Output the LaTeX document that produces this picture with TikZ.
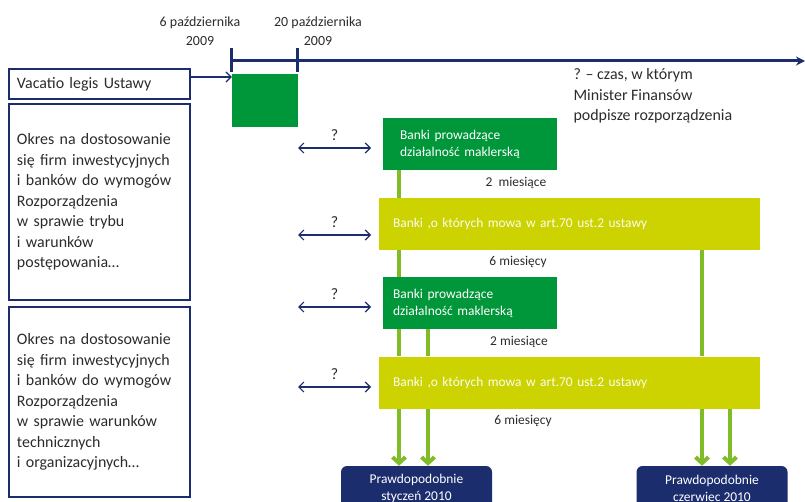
\documentclass[tikz,border=0pt]{standalone}
\usepackage{fontspec}
\setmainfont{Carlito}
\usetikzlibrary{arrows.meta, positioning}
\definecolor{navy}{HTML}{1C2D6E}
\definecolor{mkgreen}{HTML}{00963A}
\definecolor{lime}{HTML}{CCD300}
\definecolor{arrgreen}{HTML}{80BC28}
\definecolor{txtgray}{HTML}{2B2B2B}

\begin{document}
\begin{tikzpicture}[x=1bp, y=-1bp,
  every node/.style={text=txtgray},
  okres/.style={rectangle, draw=navy, line width=1.5bp, minimum width=181bp,
    text width=165bp, inner xsep=8bp, align=left,
    font=\fontsize{16}{20.5}\selectfont},
  bank/.style={rectangle, fill=mkgreen, text=white, minimum width=174bp,
    minimum height=52bp, align=left, font=\fontsize{13.5}{17}\selectfont},
  wide/.style={rectangle, fill=lime, text=white!95!lime, minimum width=381bp,
    minimum height=52bp, text width=353bp, inner xsep=14bp, align=left,
    font=\fontsize{13.5}{17}\selectfont},
  termin/.style={rectangle, rounded corners=6bp, fill=navy, text=white,
    minimum width=151bp, minimum height=44bp, align=center,
    font=\fontsize{13.5}{17}\selectfont},
  tline/.style={draw=navy, line width=3bp},
  navarr/.style={draw=navy, line width=1.2bp, -{Straight Barb[length=5bp, width=10bp]}},
  dbl/.style={draw=navy, line width=1.2bp,
    {Straight Barb[length=5bp, width=10bp]}-{Straight Barb[length=5bp, width=10bp]}},
  qmark/.style={above=3bp, font=\fontsize{16}{18}\selectfont},
  vline/.style={draw=arrgreen, line width=4bp},
  vdown/.style={vline, -{Straight Barb[length=6bp, width=13bp]}},
  dlab/.style={font=\fontsize{13.5}{17}\selectfont},
  dates/.style={align=center, font=\fontsize{14}{19}\selectfont},
]
\useasboundingbox (0,0) rectangle (805,502);

% Timeline
\coordinate (t0) at (231,61);
\coordinate (tend) at (805,61);
\draw[tline, -{Stealth[length=9bp, width=9bp]}] (t0) -- (tend);
\draw[tline] (231,48) -- (231,72);
\draw[tline] (297,48) -- (297,72);
\node[dates] (d1) at (200,31) {6 października\\2009};
\node[dates] (d2) at (318,31) {20 października\\2009};
\node[anchor=west, align=left, font=\fontsize{16}{20.5}\selectfont] (note) at (570,96)
  {? -- czas, w którym\\Minister Finansów\\podpisze rozporządzenia};

% Left column
\node[okres, minimum height=30bp, inner ysep=0bp] (vac) at (99.5,84) {Vacatio legis Ustawy};
\node[okres, minimum height=196bp] (ok1) at (99.5,202)
  {Okres na dostosowanie\\się firm inwestycyjnych\\i banków do wymogów\\Rozporządzenia\\w sprawie trybu\\i warunków\\postępowania\dots};
\node[okres, minimum height=190bp] (ok2) at (99.5,402)
  {Okres na dostosowanie\\się firm inwestycyjnych\\i banków do wymogów\\Rozporządzenia\\w sprawie warunków\\technicznych\\i organizacyjnych\dots};

\node[rectangle, fill=mkgreen, minimum width=66bp, minimum height=53bp] (sq) at (265,100.5) {};
\draw[navarr] ([yshift=7bp]vac.east) -- ([yshift=7bp]vac.east -| sq.west);

% Bank bars
\node[bank, text width=140bp, inner xsep=17bp] (gb1) at (470,144) {Banki prowadzące\\działalność maklerską};
\node[wide] (yb1) at (569.5,224) {Banki ,o których mowa w art.70 ust.2 ustawy};
\node[bank, text width=154bp, inner xsep=10bp] (gb2) at (470,303) {Banki prowadzące\\działalność maklerską};
\node[wide] (yb2) at (569.5,382.5) {Banki ,o których mowa w art.70 ust.2 ustawy};

\node[termin] (prL) at (416.5,488) {Prawdopodobnie\\styczeń 2010};
\node[termin] (prR) at (712,488) {Prawdopodobnie\\czerwiec 2010};

% Unknown periods
\coordinate (q1a) at (298,148);  \coordinate (q1b) at (371,148);
\coordinate (q2a) at (298,235);  \coordinate (q2b) at (371,235);
\coordinate (q3a) at (298,307);  \coordinate (q3b) at (371,307);
\coordinate (q4a) at (298,387);  \coordinate (q4b) at (371,387);
\draw[dbl] (q1a) -- node[qmark] {?} (q1b);
\draw[dbl] (q2a) -- node[qmark] {?} (q2b);
\draw[dbl] (q3a) -- node[qmark] {?} (q3b);
\draw[dbl] (q4a) -- node[qmark] {?} (q4b);

% Green links
\coordinate (xa) at (399,0);
\coordinate (xb) at (428,0);
\coordinate (xc) at (702,0);
\coordinate (xd) at (730,0);
\draw[vline] (xa |- gb1.south) -- (xa |- yb1.north);
\draw[vline] (xa |- yb1.south) -- (xa |- gb2.north);
\draw[vline] (xa |- gb2.south) -- (xa |- yb2.north);
\draw[vline] (xb |- gb2.south) -- (xb |- yb2.north);
\draw[vline] (xc |- yb1.south) -- (xc |- yb2.north);
\draw[vdown] (xa |- yb2.south) -- (xa |- prL.north);
\draw[vdown] (xb |- yb2.south) -- (xb |- prL.north);
\draw[vdown] (xc |- yb2.south) -- (xc |- prR.north);
\draw[vdown] (xd |- yb2.south) -- (xd |- prR.north);

\node[dlab] (m1) at (516,183) {2 \ miesiące};
\node[dlab] (m2) at (518,262) {6 miesięcy};
\node[dlab] (m3) at (519,342) {2 miesiące};
\node[dlab] (m4) at (523,421) {6 miesięcy};
\end{tikzpicture}
\end{document}
